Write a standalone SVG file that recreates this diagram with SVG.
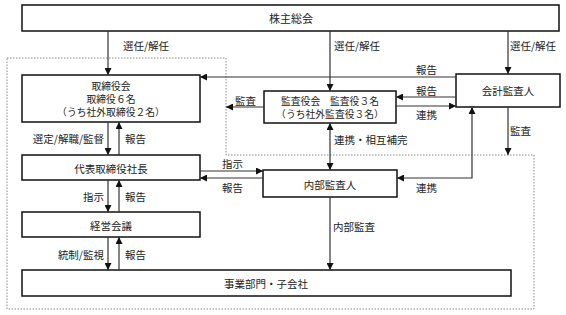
<svg xmlns="http://www.w3.org/2000/svg" width="566" height="315" viewBox="0 0 566 315">
<style>
.box{fill:#fff;stroke:#111;stroke-width:1.5}
.t{font-family:"Noto Sans CJK JP",sans-serif;font-size:10.5px;fill:#222;dominant-baseline:central}
.s{font-size:9.8px}
.c{text-anchor:middle}
.e{text-anchor:end}
.ln{fill:none;stroke:#333;stroke-width:1.2}
.dot{fill:none;stroke:#888;stroke-width:1;stroke-dasharray:1.5 1.5}
</style>
<defs>
<marker id="ah" markerWidth="7" markerHeight="7" refX="7" refY="3.5" orient="auto-start-reverse" markerUnits="userSpaceOnUse">
<path d="M0,0 L7,3.5 L0,7 z" fill="#111"/>
</marker>
</defs>
<rect width="566" height="315" fill="#fff"/>
<path class="dot" d="M7,58 H226 V155 H534 V309 H7 Z"/>

<g id="shareholders"><rect class="box" x="22" y="5" width="537" height="26"/><text class="t c" x="291" y="18" style="font-size:11px">株主総会</text></g>
<g id="board"><rect class="box" x="22" y="75" width="178" height="47"/><text class="t c s" x="111" y="86">取締役会</text><text class="t c s" x="111" y="99">取締役６名</text><text class="t c s" x="111" y="112">（うち社外取締役２名）</text></g>
<g id="auditboard"><rect class="box" x="264" y="91" width="132" height="32"/><text class="t c s" x="330" y="100.5">監査役会　監査役３名</text><text class="t c s" x="330" y="113.5">（うち社外監査役３名）</text></g>
<g id="accounting"><rect class="box" x="456" y="74" width="104" height="33"/><text class="t c" x="508" y="90">会計監査人</text></g>
<g id="president"><rect class="box" x="22" y="155" width="178" height="25"/><text class="t c" x="111" y="168">代表取締役社長</text></g>
<g id="internal"><rect class="box" x="263" y="170" width="134" height="27"/><text class="t c" x="330" y="184">内部監査人</text></g>
<g id="management"><rect class="box" x="22" y="212" width="178" height="25"/><text class="t c" x="111" y="225">経営会議</text></g>
<g id="business"><rect class="box" x="22" y="270" width="489" height="26"/><text class="t c" x="266" y="283">事業部門・子会社</text></g>

<g id="connectors">
<path class="ln" d="M108,31 V75" marker-end="url(#ah)"/>
<path class="ln" d="M330,31 V91" marker-end="url(#ah)"/>
<path class="ln" d="M508,31 V74" marker-end="url(#ah)"/>
<path class="ln" d="M456,77 H200" marker-end="url(#ah)"/>
<path class="ln" d="M456,97 H396" marker-end="url(#ah)"/>
<path class="ln" d="M396,106 H456" marker-end="url(#ah)"/>
<path class="ln" d="M264,107 H226" marker-end="url(#ah)"/>
<path class="ln" d="M108,122 V155" marker-end="url(#ah)"/>
<path class="ln" d="M119,155 V122" marker-end="url(#ah)"/>
<path class="ln" d="M108,180 V212" marker-end="url(#ah)"/>
<path class="ln" d="M119,212 V180" marker-end="url(#ah)"/>
<path class="ln" d="M108,237 V270" marker-end="url(#ah)"/>
<path class="ln" d="M119,270 V237" marker-end="url(#ah)"/>
<path class="ln" d="M200,171 H263" marker-end="url(#ah)"/>
<path class="ln" d="M263,178 H200" marker-end="url(#ah)"/>
<path class="ln" d="M330,123 V170" marker-start="url(#ah)" marker-end="url(#ah)"/>
<path class="ln" d="M472,107 V178 H397" marker-start="url(#ah)" marker-end="url(#ah)"/>
<path class="ln" d="M508,107 V155" marker-end="url(#ah)"/>
<path class="ln" d="M330,197 V270" marker-end="url(#ah)"/>

<text class="t" x="123" y="45">選任/解任</text>
<text class="t" x="334" y="45">選任/解任</text>
<text class="t" x="510" y="45">選任/解任</text>
<text class="t" x="416" y="69">報告</text>
<text class="t" x="416" y="90">報告</text>
<text class="t" x="416" y="114">連携</text>
<text class="t" x="235" y="100">監査</text>
<text class="t e" x="104" y="138">選定/解職/監督</text>
<text class="t" x="125" y="138">報告</text>
<text class="t e" x="104" y="196">指示</text>
<text class="t" x="125" y="196">報告</text>
<text class="t e" x="104" y="254">統制/監視</text>
<text class="t" x="125" y="254">報告</text>
<text class="t" x="222" y="163">指示</text>
<text class="t" x="222" y="187">報告</text>
<text class="t" x="334" y="139">連携・相互補完</text>
<text class="t" x="416" y="187">連携</text>
<text class="t" x="510" y="130">監査</text>
<text class="t" x="333" y="226">内部監査</text>
</g>
</svg>
